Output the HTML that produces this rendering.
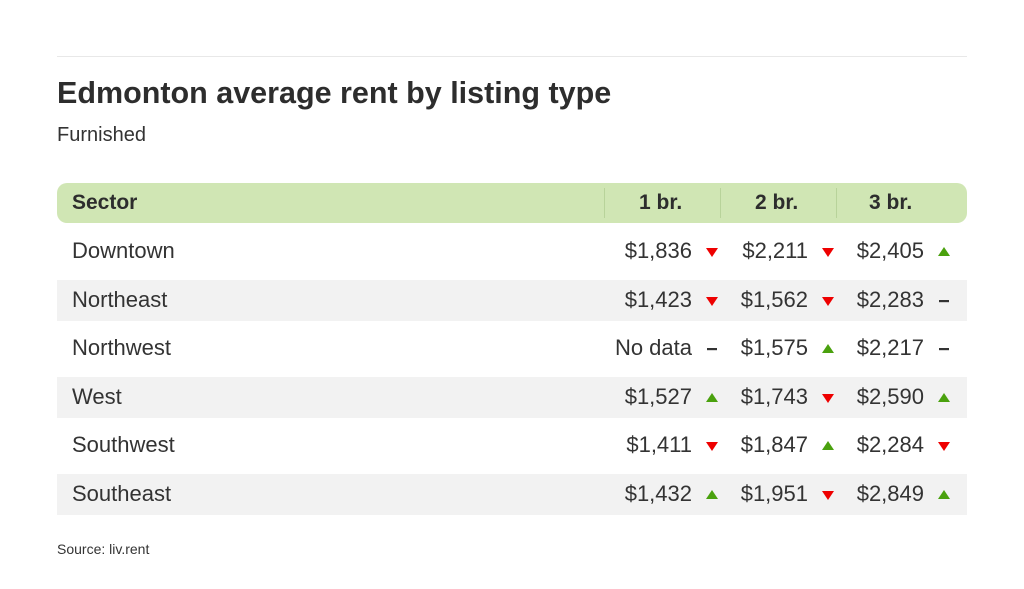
<!DOCTYPE html>
<html><head><style>
body{margin:0;width:1024px;height:589px;background:#fff;font-family:"Liberation Sans",sans-serif;color:#333;position:relative;overflow:hidden}
.a{position:absolute}
.hr{left:57px;top:56px;width:910px;height:1px;background:#e8e8e8}
.t{left:57px;top:76px;font-size:30.5px;font-weight:bold;color:#2d2d2d}
.s{left:57px;top:124px;font-size:20px;color:#333}
.hd{left:57px;top:183px;width:910px;height:40px;background:#d0e6b4;border-radius:10px}
.hd span{position:absolute;top:8px;font-size:21px;font-weight:bold;color:#2d2d2d}
.dv{position:absolute;top:5px;width:1px;height:30px;background:#b8d39a}
.row{position:absolute;left:57px;width:910px;height:41px}
.row.g{background:#f2f2f2}
.row span{position:absolute;top:7px;font-size:22px;color:#333}
.v{text-align:right;width:130px}
.i{position:absolute;top:15px;width:12px;height:12px}
.src{left:57px;top:541px;font-size:14px;color:#333}
</style></head><body>
<div class="a hr"></div>
<div class="a t">Edmonton average rent by listing type</div>
<div class="a s">Furnished</div>
<div class="a hd">
<span style="left:15px">Sector</span>
<div class="dv" style="left:547px"></div><div class="dv" style="left:663px"></div><div class="dv" style="left:779px"></div>
<span style="left:582px">1 br.</span><span style="left:698px">2 br.</span><span style="left:812px">3 br.</span>
</div>
<div id="rows"></div>
<div class="a src">Source: liv.rent</div>
<script>
var d=[["Downtown","$1,836","d","$2,211","d","$2,405","u",0],
["Northeast","$1,423","d","$1,562","d","$2,283","n",1],
["Northwest","No data","n","$1,575","u","$2,217","n",0],
["West","$1,527","u","$1,743","d","$2,590","u",0],
["Southwest","$1,411","d","$1,847","u","$2,284","d",0],
["Southeast","$1,432","u","$1,951","d","$2,849","u",1]];
var tops=[231,280,328,377,425,474];
var ic={d:'<svg class="i" viewBox="0 0 12 12"><polygon points="0,2 12,2 6,11" fill="#e00"/></svg>',
u:'<svg class="i" viewBox="0 0 12 12"><polygon points="0,10 12,10 6,1" fill="#4aa10e"/></svg>',
n:'<svg class="i" viewBox="0 0 12 12"><rect x="1" y="5" width="10" height="2.2" fill="#333"/></svg>'};
var h="";
d.forEach(function(r,i){
var g=(i==1||i==3||i==5)?" g":"";
h+='<div class="row'+g+'" style="top:'+tops[i]+'px"><span style="left:15px">'+r[0]+'</span>';
[0,1,2].forEach(function(c){
var e=635+116*c;
h+='<span class="v" style="left:'+(e-130)+'px">'+r[1+2*c]+'</span>';
h+=ic[r[2+2*c]].replace('class="i"','class="i" style="left:'+(e+14)+'px"');
});
h+='</div>';});
document.getElementById("rows").innerHTML=h;
</script>
</body></html>
